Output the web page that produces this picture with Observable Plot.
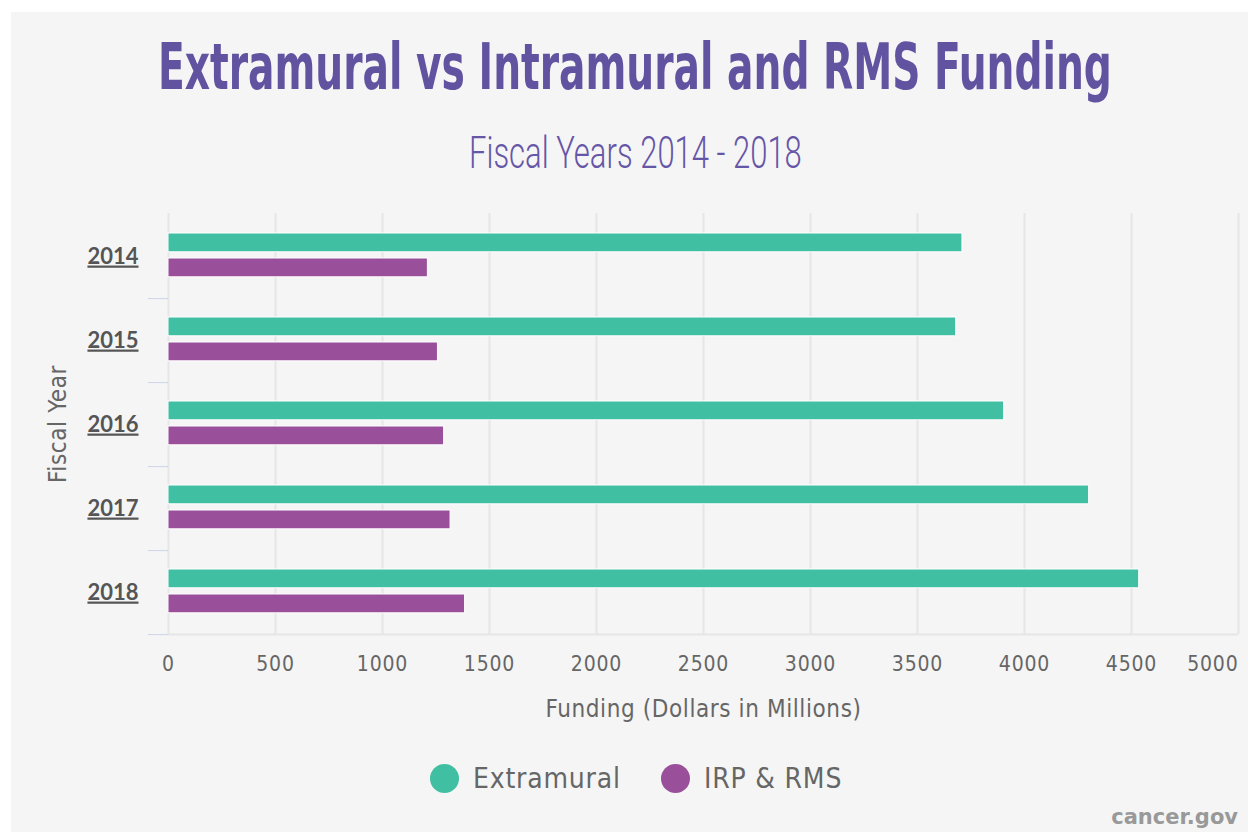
<!DOCTYPE html>
<html>
<head>
<meta charset="utf-8">
<script src="https://cdn.jsdelivr.net/npm/d3@7"></script>
<script src="https://cdn.jsdelivr.net/npm/@observablehq/plot@0.6"></script>
<style>
  html, body { margin: 0; padding: 0; background: #ffffff; }
  #card { position: absolute; left: 11px; top: 12px; width: 1237px; height: 820px; background: #f5f5f5; }
  #root { position: absolute; left: 0; top: 0; width: 1248px; height: 837px; }
  #head { position: absolute; left: 0; top: 0; }
  #chart { position: absolute; left: 0; top: 180px; }
  #legend { position: absolute; left: 0; top: 758px; width: 1248px; height: 40px; font-family: "DejaVu Sans Condensed", "DejaVu Sans", sans-serif; font-size: 28px; letter-spacing: 0.8px; color: #666; }
  .li { position: absolute; top: 0; display: flex; align-items: center; height: 40px; }
  .dot { width: 29px; height: 29px; border-radius: 50%; margin-right: 14px; }
  #credit { position: absolute; right: 10px; top: 805px; font-family: "DejaVu Sans", sans-serif; font-weight: bold; font-size: 21px; color: #999; }
  g[aria-label="y-axis tick label"] text { text-decoration: underline; }
  g[aria-label="x-axis tick label"] text { letter-spacing: 0.8px; }
</style>
</head>
<body>
<div id="card"></div>
<div id="root">
  <svg id="head" width="1248" height="180"></svg>
  <div id="chart"></div>
  <div id="legend"></div>
  <div id="credit">cancer.gov</div>
</div>
<script>
const title = "Extramural vs Intramural and RMS Funding";
const subtitle = "Fiscal Years 2014 - 2018";
const years = ["2014", "2015", "2016", "2017", "2018"];
const seriesNames = ["Extramural", "IRP & RMS"];
const extramural = [3710, 3681, 3905, 4302, 4536];
const irpRms = [1212, 1259, 1288, 1318, 1386];
const seriesColors = ["#41bfa3", "#994f9a"];
const xTicks = [0, 500, 1000, 1500, 2000, 2500, 3000, 3500, 4000, 4500, 5000];
const xLabel = "Funding (Dollars in Millions)";
const yLabel = "Fiscal Year";

// Heading: fit text to a target width by choosing the font size, then stretch vertically
const head = d3.select("#head");
function fitText(str, x, baseline, width, visualSize, family, weight, fill) {
  const t = head.append("text").attr("x", 0).attr("y", 0)
    .attr("font-family", family).attr("font-weight", weight)
    .attr("font-size", visualSize).attr("fill", fill).text(str);
  const natural = t.node().getComputedTextLength();
  const fs = visualSize * width / natural;
  t.attr("font-size", fs)
   .attr("transform", `translate(${x},${baseline}) scale(1,${visualSize / fs})`);
}
fitText(title, 158, 89, 954, 64, "'DejaVu Sans Condensed', 'DejaVu Sans', sans-serif", "bold", "#6153a0");
fitText(subtitle, 469, 168, 333, 44, "Roboto, 'DejaVu Sans', sans-serif", 300, "#6656a8");

// Data table
const rowsE = years.map((y, i) => ({year: y, series: seriesNames[0], value: extramural[i]}));
const rowsI = years.map((y, i) => ({year: y, series: seriesNames[1], value: irpRms[i]}));

const H = 560, MT = 33, MB = 106;
const band = (H - MT - MB) / years.length;

const axisFont = "'DejaVu Sans Condensed', 'DejaVu Sans', sans-serif";
const fmt = d => String(d);

const chart = Plot.plot({
  width: 1248,
  height: H,
  marginLeft: 168,
  marginRight: 10,
  marginTop: MT,
  marginBottom: MB,
  style: {background: "transparent", fontFamily: axisFont, overflow: "visible"},
  x: {domain: [0, 5000]},
  y: {domain: years, padding: 0},
  color: {domain: seriesNames, range: seriesColors},
  marks: [
    Plot.gridX(xTicks, {stroke: "#e6e6e6", strokeWidth: 2, strokeOpacity: 1}),
    Plot.ruleY([years[years.length - 1]], {stroke: "#e6e6e6", strokeWidth: 2, dy: band / 2}),
    Plot.axisY({stroke: "#ccd6eb", fill: "none", tickSize: 20, dy: band / 2, label: null}),
    Plot.axisY({tickSize: 0, tickPadding: 30, fontSize: 22, fontWeight: "bold", fill: "#555",
      fontFamily: "Lato, 'Open Sans', sans-serif",
      label: yLabel, labelAnchor: "center", labelOffset: 120, labelArrow: "none"}),
    Plot.axisX(xTicks.slice(0, -1), {tickSize: 0, tickPadding: 22, fontSize: 21, fill: "#666", tickFormat: fmt,
      label: xLabel, labelAnchor: "center", labelOffset: 82, labelArrow: "none"}),
    Plot.axisX(xTicks.slice(-1), {tickSize: 0, tickPadding: 22, fontSize: 21, fill: "#666", tickFormat: fmt,
      textAnchor: "end", label: null}),
    Plot.barX(rowsE, {x: "value", y: "year", fill: "series", stroke: "white", strokeWidth: 1,
      insetTop: 19, insetBottom: band - 38}),
    Plot.barX(rowsI, {x: "value", y: "year", fill: "series", stroke: "white", strokeWidth: 1,
      insetTop: 44, insetBottom: band - 63})
  ]
});
document.getElementById("chart").appendChild(chart);

// style axis labels
d3.select(chart).selectAll('g[aria-label="y-axis label"] text')
  .attr("font-family", axisFont).attr("font-weight", "normal")
  .attr("font-size", 24).attr("fill", "#666").style("text-decoration", "none")
  .style("letter-spacing", "0.6px").text(yLabel);
d3.select(chart).selectAll('g[aria-label="x-axis label"] text')
  .attr("font-size", 24).attr("fill", "#666").style("letter-spacing", "0.6px").text(xLabel);

// Legend
const legendPos = [430, 661];
const leg = d3.select("#legend");
seriesNames.forEach((s, i) => {
  const item = leg.append("div").attr("class", "li").style("left", legendPos[i] + "px");
  item.append("div").attr("class", "dot").style("background", seriesColors[i]);
  item.append("span").text(s);
});
</script>
</body>
</html>
